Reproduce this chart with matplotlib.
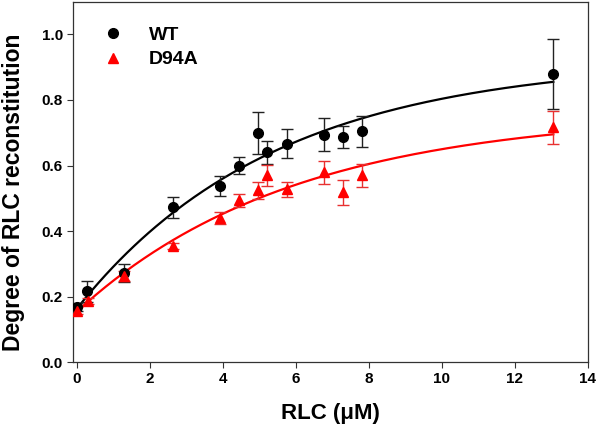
import numpy as np
import matplotlib
matplotlib.use("Agg")
import matplotlib.pyplot as plt

plt.rcParams['font.family'] = ['Liberation Sans', 'DejaVu Sans']
plt.rcParams['font.weight'] = 'bold'

# RLC concentration (uM)
wt_x = [0.0, 0.27, 1.3, 2.62, 3.93, 4.45, 4.97, 5.21, 5.75, 6.78, 7.3, 7.82, 13.05]
wt_y = [0.168, 0.216, 0.272, 0.473, 0.537, 0.600, 0.698, 0.640, 0.667, 0.694, 0.687, 0.704, 0.878]
wt_err = [0.012, 0.032, 0.028, 0.032, 0.030, 0.025, 0.064, 0.035, 0.044, 0.051, 0.035, 0.048, 0.107]

d94a_x = [0.0, 0.3, 1.3, 2.62, 3.93, 4.45, 4.97, 5.21, 5.75, 6.78, 7.3, 7.82, 13.05]
d94a_y = [0.157, 0.186, 0.262, 0.354, 0.440, 0.494, 0.524, 0.570, 0.527, 0.579, 0.518, 0.570, 0.717]
d94a_err = [0.010, 0.010, 0.015, 0.010, 0.018, 0.020, 0.026, 0.032, 0.024, 0.034, 0.038, 0.035, 0.050]


def fit_rise(x, y):
    # y = y0 + a*(1 - exp(-b*x)), least squares with a scan over b
    x = np.asarray(x)
    y = np.asarray(y)
    best = None
    for b in np.linspace(0.01, 2, 4000):
        A = np.column_stack([np.ones_like(x), 1 - np.exp(-b * x)])
        coef = np.linalg.lstsq(A, y, rcond=None)[0]
        sse = np.sum((A @ coef - y) ** 2)
        if best is None or sse < best[0]:
            best = (sse, coef[0], coef[1], b)
    return best[1:]


fig = plt.figure(figsize=(6, 4.3), dpi=100)
ax = fig.add_axes([0.122, 0.158, 0.858, 0.838])

for xs, ys, es, col, ecol, mk, lab in [
        (wt_x, wt_y, wt_err, 'black', '#222222', 'o', 'WT'),
        (d94a_x, d94a_y, d94a_err, '#ff0000', '#e83030', '^', 'D94A')]:
    y0, a, b = fit_rise(xs, ys)
    xx = np.linspace(min(xs), max(xs), 200)
    ax.plot(xx, y0 + a * (1 - np.exp(-b * xx)), color=col, lw=1.6, zorder=2)
    ax.errorbar(xs, ys, yerr=es, fmt='none', ecolor=ecol, elinewidth=1.0,
                capsize=4.5, capthick=1.0, zorder=3)
    ax.plot(xs, ys, ls='none', marker=mk, color=col, ms=7, zorder=4, label=lab)

ax.set_xlim(-0.1, 14)
ax.set_ylim(0, 1.1)
ax.set_xticks(range(0, 15, 2))
ax.set_yticks([0.0, 0.2, 0.4, 0.6, 0.8, 1.0])
ax.set_yticklabels(['0.0', '0.2', '0.4', '0.6', '0.8', '1.0'])
ax.tick_params(direction='out', length=4, width=0.8, labelsize=11, color='#333333',
               top=False, right=False)
for s in ax.spines.values():
    s.set_color('#333333')
    s.set_linewidth(0.9)

ax.set_xlabel('RLC (\u03bcM)', fontsize=16, fontweight='bold', labelpad=12)
ax.set_ylabel('Degree of RLC reconstitution', fontsize=16.5, fontweight='bold')
ax.yaxis.set_label_coords(-0.093, 0.472)

leg = ax.legend(loc='upper left', frameon=False, fontsize=14, handletextpad=1.1,
                bbox_to_anchor=(0.015, 0.98), labelspacing=0.35, handlelength=1.5)

fig.savefig('out.png', dpi=100)
